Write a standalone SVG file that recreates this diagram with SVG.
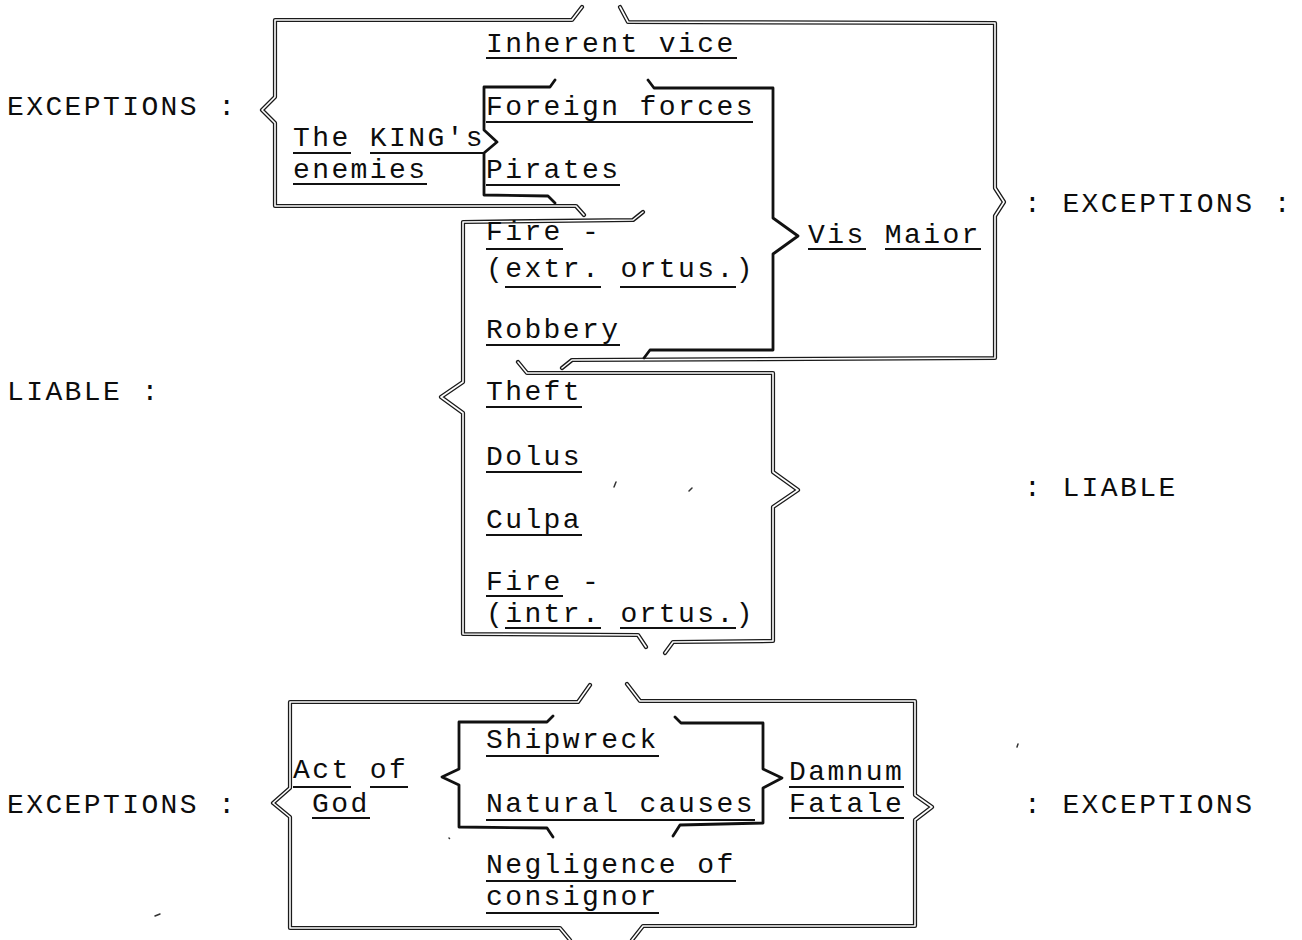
<svg xmlns="http://www.w3.org/2000/svg" xmlns:xlink="http://www.w3.org/1999/xlink" width="1302" height="940" viewBox="0 0 1302 940">
<style>
text{font-family:"Liberation Mono","DejaVu Sans Mono",monospace;font-size:28px;letter-spacing:2.4px;fill:#0d0d0d;}
.u{stroke:#111;stroke-width:2.2;fill:none;}
.ho{fill:none;stroke:#1a1a1a;stroke-width:4.2;stroke-linejoin:round;stroke-linecap:round;}
.hi{fill:none;stroke:#fff;stroke-width:1.6;stroke-linejoin:round;stroke-linecap:round;}
.so{fill:none;stroke:#111;stroke-width:2.8;stroke-linejoin:round;stroke-linecap:round;}
.sp{fill:none;stroke:#333;stroke-width:1.5;stroke-linecap:round;}
</style>
<defs>
<path id="bA" d="M582,7 L572,20 L275,20 L275,97 L262,110 L275,123 L275,206 L576,206 L584,215"/>
<path id="bB" d="M620,7 L628,22 L995,23 L995,188 L1004,202 L995,216 L995,358 L572,360 L562,368"/>
<path id="bE" d="M643,212 L633,220 L463,222 L463,382 L441,397 L463,413 L463,634 L638,635 L646,647"/>
<path id="bF" d="M518,362 L527,373 L773,373 L773,472 L798,490 L773,507 L773,641 L673,642 L665,653"/>
<path id="bG" d="M590,685 L578,702 L290,702 L290,788 L273,803 L290,817 L290,928 L560,928 L570,940"/>
<path id="bH" d="M627,684 L640,701 L915,701 L915,795 L932,807 L915,820 L915,926 L643,926 L632,940"/>
</defs>
<rect width="1302" height="940" fill="#fff"/>
<g id="connectors">
<g id="hollow-braces">
<use xlink:href="#bA" class="ho"/><use xlink:href="#bA" class="hi"/>
<use xlink:href="#bB" class="ho"/><use xlink:href="#bB" class="hi"/>
<use xlink:href="#bE" class="ho"/><use xlink:href="#bE" class="hi"/>
<use xlink:href="#bF" class="ho"/><use xlink:href="#bF" class="hi"/>
<use xlink:href="#bG" class="ho"/><use xlink:href="#bG" class="hi"/>
<use xlink:href="#bH" class="ho"/><use xlink:href="#bH" class="hi"/>
</g>
<g id="solid-braces">
<path class="so" d="M648,80 L654,88 L773,88 L773,218 L798,236 L773,254 L773,350 L650,350 L644,358"/>
<path class="so" d="M555,80 L550,87 L484,87 L484,130 L497,142 L484,153 L484,195 L548,196 L555,203"/>
<path class="so" d="M553,716 L547,722 L459,722 L459,769 L442,777 L459,785 L459,827 L547,828 L553,837"/>
<path class="so" d="M675,717 L681,723 L763,723 L763,769 L782,778 L763,788 L763,823 L680,825 L673,836"/>
</g>
</g>
<g id="labels">
<g id="lbl-exc-top-left"><text x="7" y="115">EXCEPTIONS :</text></g>
<g id="lbl-liable-left"><text x="7" y="400">LIABLE :</text></g>
<g id="lbl-exc-bottom-left"><text x="7" y="813">EXCEPTIONS :</text></g>
<g id="lbl-exc-top-right"><text x="1024" y="212">: EXCEPTIONS :</text></g>
<g id="lbl-liable-right"><text x="1024" y="496">: LIABLE</text></g>
<g id="lbl-exc-bottom-right"><text x="1024" y="813">: EXCEPTIONS</text></g>
</g>
<g id="n-inherent"><text x="486" y="52">Inherent vice</text><path class="u" d="M486,58 H737"/></g>
<g id="n-foreign"><text x="486" y="115">Foreign forces</text><path class="u" d="M486,122 H753"/></g>
<g id="n-pirates"><text x="486" y="178">Pirates</text><path class="u" d="M486,185 H620"/></g>
<g id="n-kings"><text x="293" y="146">The KING's</text><text x="293" y="178">enemies</text><path class="u" d="M293,153 H351 M370,153 H484 M293,184 H427"/></g>
<g id="n-fire-ext"><text x="486" y="240">Fire -</text><text x="486" y="277">(extr. ortus.)</text><path class="u" d="M486,249 H563 M505,287 H601 M620,287 H736"/></g>
<g id="n-vismaior"><text x="808" y="243">Vis Maior</text><path class="u" d="M808,249 H866 M885,249 H981"/></g>
<g id="n-robbery"><text x="486" y="338">Robbery</text><path class="u" d="M486,345 H620"/></g>
<g id="n-theft"><text x="486" y="400">Theft</text><path class="u" d="M486,407 H582"/></g>
<g id="n-dolus"><text x="486" y="465">Dolus</text><path class="u" d="M486,472 H582"/></g>
<g id="n-culpa"><text x="486" y="528">Culpa</text><path class="u" d="M486,535 H582"/></g>
<g id="n-fire-int"><text x="486" y="590">Fire -</text><text x="486" y="622">(intr. ortus.)</text><path class="u" d="M486,596 H563 M505,628 H601 M620,628 H736"/></g>
<g id="n-actofgod"><text x="293" y="778">Act of</text><text x="312" y="812">God</text><path class="u" d="M293,787 H351 M370,787 H408 M312,818 H370"/></g>
<g id="n-shipwreck"><text x="486" y="748">Shipwreck</text><path class="u" d="M486,756 H659"/></g>
<g id="n-natural"><text x="486" y="812">Natural causes</text><path class="u" d="M486,820 H755"/></g>
<g id="n-negligence"><text x="486" y="873">Negligence of</text><text x="486" y="905">consignor</text><path class="u" d="M486,881 H736 M486,913 H659"/></g>
<g id="n-damnum"><text x="789" y="780">Damnum</text><text x="789" y="812">Fatale</text><path class="u" d="M789,787 H904 M789,818 H904"/></g>
<g id="specks">
<path class="sp" d="M616,482 l-2,5 M692,488 l-3,3 M449,838 l0.5,0.5 M160,914 l-5,2 M1018,744 l-1,3"/>
</g>
</svg>
